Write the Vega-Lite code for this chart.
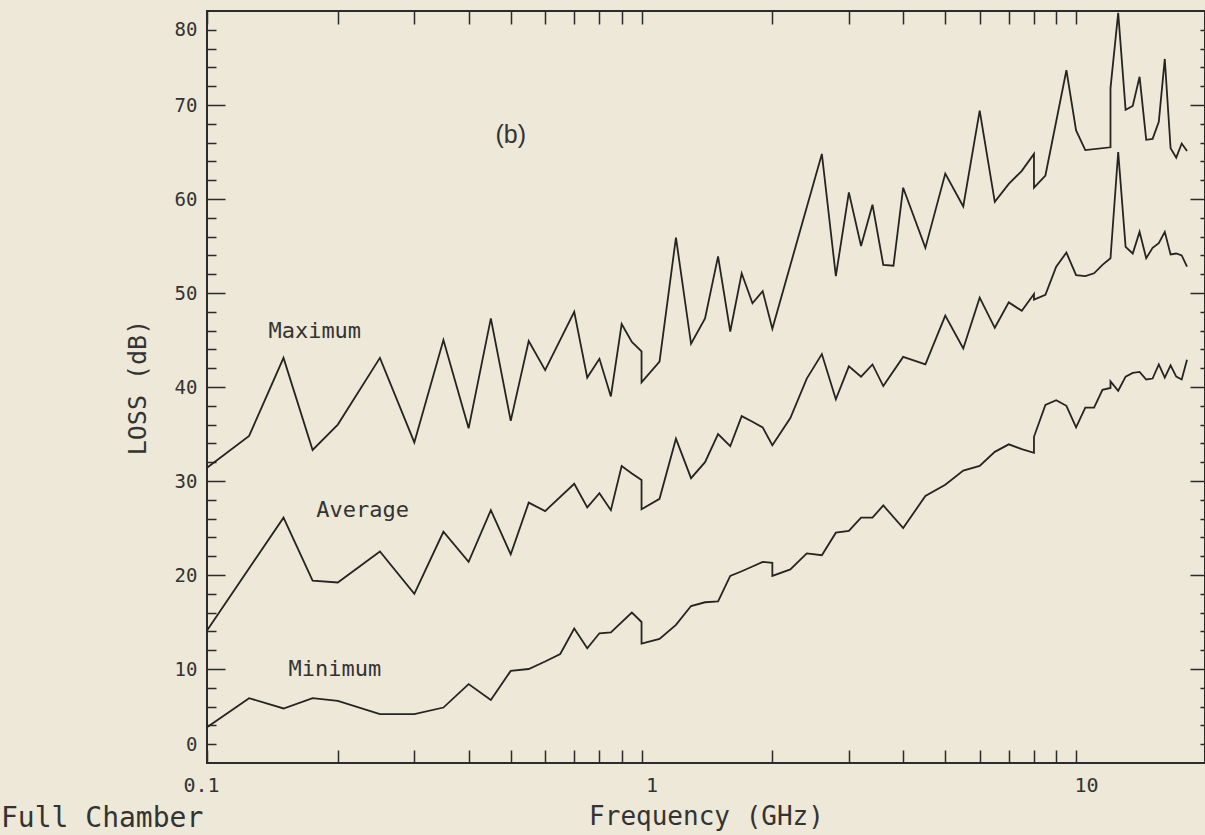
{
  "$schema": "https://vega.github.io/schema/vega-lite/v6.json",
  "width": 998,
  "height": 752,
  "autosize": {"type": "none"},
  "padding": {"left": 207, "top": 11, "right": 0, "bottom": 72},
  "background": "#ede8d8",
  "config": {
    "view": {"stroke": "#2b2b2b", "strokeWidth": 2},
    "axis": {
      "domain": false,
      "grid": false,
      "tickColor": "#2b2b2b",
      "tickWidth": 1.5,
      "labelFont": "DejaVu Sans Mono",
      "labelColor": "#333333",
      "titleFont": "DejaVu Sans Mono",
      "titleFontWeight": "normal",
      "titleColor": "#333333"
    },
    "title": {"font": "DejaVu Sans Mono", "fontWeight": "normal", "color": "#333333"}
  },
  "title": {
    "text": "Full Chamber",
    "orient": "bottom",
    "anchor": "start",
    "frame": "group",
    "fontSize": 28,
    "dx": -206,
    "offset": -24
  },
  "datasets": {
    "lines": [
      {"s": "Maximum", "i": 0, "f": 0.1, "v": 31.4},
      {"s": "Maximum", "i": 1, "f": 0.125, "v": 34.8},
      {"s": "Maximum", "i": 2, "f": 0.15, "v": 43.1},
      {"s": "Maximum", "i": 3, "f": 0.175, "v": 33.3},
      {"s": "Maximum", "i": 4, "f": 0.2, "v": 36.0},
      {"s": "Maximum", "i": 5, "f": 0.25, "v": 43.1},
      {"s": "Maximum", "i": 6, "f": 0.3, "v": 34.1},
      {"s": "Maximum", "i": 7, "f": 0.35, "v": 45.0},
      {"s": "Maximum", "i": 8, "f": 0.4, "v": 35.6},
      {"s": "Maximum", "i": 9, "f": 0.45, "v": 47.3},
      {"s": "Maximum", "i": 10, "f": 0.5, "v": 36.4},
      {"s": "Maximum", "i": 11, "f": 0.55, "v": 44.9},
      {"s": "Maximum", "i": 12, "f": 0.6, "v": 41.8},
      {"s": "Maximum", "i": 13, "f": 0.7, "v": 48.0},
      {"s": "Maximum", "i": 14, "f": 0.75, "v": 41.0},
      {"s": "Maximum", "i": 15, "f": 0.8, "v": 43.0},
      {"s": "Maximum", "i": 16, "f": 0.85, "v": 39.0},
      {"s": "Maximum", "i": 17, "f": 0.9, "v": 46.7},
      {"s": "Maximum", "i": 18, "f": 0.95, "v": 44.8},
      {"s": "Maximum", "i": 19, "f": 1.0, "v": 43.8},
      {"s": "Maximum", "i": 20, "f": 1.0, "v": 40.5},
      {"s": "Maximum", "i": 21, "f": 1.1, "v": 42.7},
      {"s": "Maximum", "i": 22, "f": 1.2, "v": 55.9},
      {"s": "Maximum", "i": 23, "f": 1.3, "v": 44.6},
      {"s": "Maximum", "i": 24, "f": 1.4, "v": 47.3},
      {"s": "Maximum", "i": 25, "f": 1.5, "v": 53.9},
      {"s": "Maximum", "i": 26, "f": 1.6, "v": 45.9},
      {"s": "Maximum", "i": 27, "f": 1.7, "v": 52.1},
      {"s": "Maximum", "i": 28, "f": 1.8, "v": 48.9},
      {"s": "Maximum", "i": 29, "f": 1.9, "v": 50.2},
      {"s": "Maximum", "i": 30, "f": 2.0, "v": 46.2},
      {"s": "Maximum", "i": 31, "f": 2.6, "v": 64.8},
      {"s": "Maximum", "i": 32, "f": 2.8, "v": 51.8},
      {"s": "Maximum", "i": 33, "f": 3.0, "v": 60.7},
      {"s": "Maximum", "i": 34, "f": 3.2, "v": 55.0},
      {"s": "Maximum", "i": 35, "f": 3.4, "v": 59.4},
      {"s": "Maximum", "i": 36, "f": 3.6, "v": 53.0},
      {"s": "Maximum", "i": 37, "f": 3.8, "v": 52.9},
      {"s": "Maximum", "i": 38, "f": 4.0, "v": 61.2},
      {"s": "Maximum", "i": 39, "f": 4.5, "v": 54.8},
      {"s": "Maximum", "i": 40, "f": 5.0, "v": 62.7},
      {"s": "Maximum", "i": 41, "f": 5.5, "v": 59.2},
      {"s": "Maximum", "i": 42, "f": 6.0, "v": 69.4},
      {"s": "Maximum", "i": 43, "f": 6.5, "v": 59.7},
      {"s": "Maximum", "i": 44, "f": 7.0, "v": 61.6},
      {"s": "Maximum", "i": 45, "f": 7.5, "v": 63.0},
      {"s": "Maximum", "i": 46, "f": 8.0, "v": 64.8},
      {"s": "Maximum", "i": 47, "f": 8.0, "v": 61.2},
      {"s": "Maximum", "i": 48, "f": 8.5, "v": 62.5},
      {"s": "Maximum", "i": 49, "f": 9.5, "v": 73.7},
      {"s": "Maximum", "i": 50, "f": 10.0, "v": 67.3},
      {"s": "Maximum", "i": 51, "f": 10.5, "v": 65.2},
      {"s": "Maximum", "i": 52, "f": 12.0, "v": 65.5},
      {"s": "Maximum", "i": 53, "f": 12.0, "v": 71.8},
      {"s": "Maximum", "i": 54, "f": 12.5, "v": 79.8},
      {"s": "Maximum", "i": 55, "f": 13.0, "v": 69.5},
      {"s": "Maximum", "i": 56, "f": 13.5, "v": 69.9},
      {"s": "Maximum", "i": 57, "f": 14.0, "v": 73.0},
      {"s": "Maximum", "i": 58, "f": 14.5, "v": 66.3},
      {"s": "Maximum", "i": 59, "f": 15.0, "v": 66.4},
      {"s": "Maximum", "i": 60, "f": 15.5, "v": 68.2},
      {"s": "Maximum", "i": 61, "f": 16.0, "v": 74.9},
      {"s": "Maximum", "i": 62, "f": 16.5, "v": 65.4},
      {"s": "Maximum", "i": 63, "f": 17.0, "v": 64.4},
      {"s": "Maximum", "i": 64, "f": 17.5, "v": 65.9},
      {"s": "Maximum", "i": 65, "f": 18.0, "v": 65.1},

      {"s": "Average", "i": 0, "f": 0.1, "v": 14.1},
      {"s": "Average", "i": 1, "f": 0.15, "v": 26.1},
      {"s": "Average", "i": 2, "f": 0.175, "v": 19.4},
      {"s": "Average", "i": 3, "f": 0.2, "v": 19.2},
      {"s": "Average", "i": 4, "f": 0.25, "v": 22.5},
      {"s": "Average", "i": 5, "f": 0.3, "v": 18.0},
      {"s": "Average", "i": 6, "f": 0.35, "v": 24.6},
      {"s": "Average", "i": 7, "f": 0.4, "v": 21.4},
      {"s": "Average", "i": 8, "f": 0.45, "v": 26.9},
      {"s": "Average", "i": 9, "f": 0.5, "v": 22.2},
      {"s": "Average", "i": 10, "f": 0.55, "v": 27.7},
      {"s": "Average", "i": 11, "f": 0.6, "v": 26.8},
      {"s": "Average", "i": 12, "f": 0.7, "v": 29.7},
      {"s": "Average", "i": 13, "f": 0.75, "v": 27.2},
      {"s": "Average", "i": 14, "f": 0.8, "v": 28.7},
      {"s": "Average", "i": 15, "f": 0.85, "v": 26.9},
      {"s": "Average", "i": 16, "f": 0.9, "v": 31.6},
      {"s": "Average", "i": 17, "f": 0.95, "v": 30.8},
      {"s": "Average", "i": 18, "f": 1.0, "v": 30.1},
      {"s": "Average", "i": 19, "f": 1.0, "v": 27.0},
      {"s": "Average", "i": 20, "f": 1.1, "v": 28.1},
      {"s": "Average", "i": 21, "f": 1.2, "v": 34.5},
      {"s": "Average", "i": 22, "f": 1.3, "v": 30.3},
      {"s": "Average", "i": 23, "f": 1.4, "v": 32.0},
      {"s": "Average", "i": 24, "f": 1.5, "v": 35.0},
      {"s": "Average", "i": 25, "f": 1.6, "v": 33.7},
      {"s": "Average", "i": 26, "f": 1.7, "v": 36.9},
      {"s": "Average", "i": 27, "f": 1.8, "v": 36.3},
      {"s": "Average", "i": 28, "f": 1.9, "v": 35.7},
      {"s": "Average", "i": 29, "f": 2.0, "v": 33.8},
      {"s": "Average", "i": 30, "f": 2.2, "v": 36.7},
      {"s": "Average", "i": 31, "f": 2.4, "v": 40.9},
      {"s": "Average", "i": 32, "f": 2.6, "v": 43.5},
      {"s": "Average", "i": 33, "f": 2.8, "v": 38.7},
      {"s": "Average", "i": 34, "f": 3.0, "v": 42.2},
      {"s": "Average", "i": 35, "f": 3.2, "v": 41.1},
      {"s": "Average", "i": 36, "f": 3.4, "v": 42.4},
      {"s": "Average", "i": 37, "f": 3.6, "v": 40.1},
      {"s": "Average", "i": 38, "f": 4.0, "v": 43.2},
      {"s": "Average", "i": 39, "f": 4.5, "v": 42.4},
      {"s": "Average", "i": 40, "f": 5.0, "v": 47.6},
      {"s": "Average", "i": 41, "f": 5.5, "v": 44.1},
      {"s": "Average", "i": 42, "f": 6.0, "v": 49.5},
      {"s": "Average", "i": 43, "f": 6.5, "v": 46.3},
      {"s": "Average", "i": 44, "f": 7.0, "v": 49.0},
      {"s": "Average", "i": 45, "f": 7.5, "v": 48.1},
      {"s": "Average", "i": 46, "f": 8.0, "v": 49.9},
      {"s": "Average", "i": 47, "f": 8.0, "v": 49.3},
      {"s": "Average", "i": 48, "f": 8.5, "v": 49.8},
      {"s": "Average", "i": 49, "f": 9.0, "v": 52.8},
      {"s": "Average", "i": 50, "f": 9.5, "v": 54.3},
      {"s": "Average", "i": 51, "f": 10.0, "v": 51.9},
      {"s": "Average", "i": 52, "f": 10.5, "v": 51.8},
      {"s": "Average", "i": 53, "f": 11.0, "v": 52.1},
      {"s": "Average", "i": 54, "f": 11.5, "v": 53.0},
      {"s": "Average", "i": 55, "f": 12.0, "v": 53.7},
      {"s": "Average", "i": 56, "f": 12.5, "v": 65.0},
      {"s": "Average", "i": 57, "f": 13.0, "v": 54.9},
      {"s": "Average", "i": 58, "f": 13.5, "v": 54.2},
      {"s": "Average", "i": 59, "f": 14.0, "v": 56.5},
      {"s": "Average", "i": 60, "f": 14.5, "v": 53.7},
      {"s": "Average", "i": 61, "f": 15.0, "v": 54.8},
      {"s": "Average", "i": 62, "f": 15.5, "v": 55.3},
      {"s": "Average", "i": 63, "f": 16.0, "v": 56.5},
      {"s": "Average", "i": 64, "f": 16.5, "v": 54.1},
      {"s": "Average", "i": 65, "f": 17.0, "v": 54.2},
      {"s": "Average", "i": 66, "f": 17.5, "v": 54.0},
      {"s": "Average", "i": 67, "f": 18.0, "v": 52.8},

      {"s": "Minimum", "i": 0, "f": 0.1, "v": 3.8},
      {"s": "Minimum", "i": 1, "f": 0.125, "v": 6.9},
      {"s": "Minimum", "i": 2, "f": 0.15, "v": 5.8},
      {"s": "Minimum", "i": 3, "f": 0.175, "v": 6.9},
      {"s": "Minimum", "i": 4, "f": 0.2, "v": 6.6},
      {"s": "Minimum", "i": 5, "f": 0.25, "v": 5.2},
      {"s": "Minimum", "i": 6, "f": 0.3, "v": 5.2},
      {"s": "Minimum", "i": 7, "f": 0.35, "v": 5.9},
      {"s": "Minimum", "i": 8, "f": 0.4, "v": 8.4},
      {"s": "Minimum", "i": 9, "f": 0.45, "v": 6.7},
      {"s": "Minimum", "i": 10, "f": 0.5, "v": 9.8},
      {"s": "Minimum", "i": 11, "f": 0.55, "v": 10.0},
      {"s": "Minimum", "i": 12, "f": 0.6, "v": 10.8},
      {"s": "Minimum", "i": 13, "f": 0.65, "v": 11.6},
      {"s": "Minimum", "i": 14, "f": 0.7, "v": 14.3},
      {"s": "Minimum", "i": 15, "f": 0.75, "v": 12.2},
      {"s": "Minimum", "i": 16, "f": 0.8, "v": 13.8},
      {"s": "Minimum", "i": 17, "f": 0.85, "v": 13.9},
      {"s": "Minimum", "i": 18, "f": 0.95, "v": 16.0},
      {"s": "Minimum", "i": 19, "f": 1.0, "v": 15.0},
      {"s": "Minimum", "i": 20, "f": 1.0, "v": 12.7},
      {"s": "Minimum", "i": 21, "f": 1.1, "v": 13.2},
      {"s": "Minimum", "i": 22, "f": 1.2, "v": 14.7},
      {"s": "Minimum", "i": 23, "f": 1.3, "v": 16.7},
      {"s": "Minimum", "i": 24, "f": 1.4, "v": 17.1},
      {"s": "Minimum", "i": 25, "f": 1.5, "v": 17.2},
      {"s": "Minimum", "i": 26, "f": 1.6, "v": 19.9},
      {"s": "Minimum", "i": 27, "f": 1.7, "v": 20.4},
      {"s": "Minimum", "i": 28, "f": 1.8, "v": 20.9},
      {"s": "Minimum", "i": 29, "f": 1.9, "v": 21.4},
      {"s": "Minimum", "i": 30, "f": 2.0, "v": 21.3},
      {"s": "Minimum", "i": 31, "f": 2.0, "v": 19.9},
      {"s": "Minimum", "i": 32, "f": 2.2, "v": 20.6},
      {"s": "Minimum", "i": 33, "f": 2.4, "v": 22.3},
      {"s": "Minimum", "i": 34, "f": 2.6, "v": 22.1},
      {"s": "Minimum", "i": 35, "f": 2.8, "v": 24.5},
      {"s": "Minimum", "i": 36, "f": 3.0, "v": 24.7},
      {"s": "Minimum", "i": 37, "f": 3.2, "v": 26.1},
      {"s": "Minimum", "i": 38, "f": 3.4, "v": 26.1},
      {"s": "Minimum", "i": 39, "f": 3.6, "v": 27.4},
      {"s": "Minimum", "i": 40, "f": 4.0, "v": 25.0},
      {"s": "Minimum", "i": 41, "f": 4.5, "v": 28.4},
      {"s": "Minimum", "i": 42, "f": 5.0, "v": 29.6},
      {"s": "Minimum", "i": 43, "f": 5.5, "v": 31.1},
      {"s": "Minimum", "i": 44, "f": 6.0, "v": 31.6},
      {"s": "Minimum", "i": 45, "f": 6.5, "v": 33.1},
      {"s": "Minimum", "i": 46, "f": 7.0, "v": 33.9},
      {"s": "Minimum", "i": 47, "f": 7.5, "v": 33.4},
      {"s": "Minimum", "i": 48, "f": 8.0, "v": 33.0},
      {"s": "Minimum", "i": 49, "f": 8.0, "v": 34.7},
      {"s": "Minimum", "i": 50, "f": 8.5, "v": 38.1},
      {"s": "Minimum", "i": 51, "f": 9.0, "v": 38.6},
      {"s": "Minimum", "i": 52, "f": 9.5, "v": 38.0},
      {"s": "Minimum", "i": 53, "f": 10.0, "v": 35.7},
      {"s": "Minimum", "i": 54, "f": 10.5, "v": 37.8},
      {"s": "Minimum", "i": 55, "f": 11.0, "v": 37.8},
      {"s": "Minimum", "i": 56, "f": 11.5, "v": 39.7},
      {"s": "Minimum", "i": 57, "f": 12.0, "v": 39.9},
      {"s": "Minimum", "i": 58, "f": 12.0, "v": 40.6},
      {"s": "Minimum", "i": 59, "f": 12.5, "v": 39.6},
      {"s": "Minimum", "i": 60, "f": 13.0, "v": 41.1},
      {"s": "Minimum", "i": 61, "f": 13.5, "v": 41.5},
      {"s": "Minimum", "i": 62, "f": 14.0, "v": 41.6},
      {"s": "Minimum", "i": 63, "f": 14.5, "v": 40.8},
      {"s": "Minimum", "i": 64, "f": 15.0, "v": 40.9},
      {"s": "Minimum", "i": 65, "f": 15.5, "v": 42.4},
      {"s": "Minimum", "i": 66, "f": 16.0, "v": 41.0},
      {"s": "Minimum", "i": 67, "f": 16.5, "v": 42.3},
      {"s": "Minimum", "i": 68, "f": 17.0, "v": 41.1},
      {"s": "Minimum", "i": 69, "f": 17.5, "v": 40.8},
      {"s": "Minimum", "i": 70, "f": 18.0, "v": 42.9}
    ],
    "notes": [
      {"t": "Maximum", "f": 0.177, "v": 46.0},
      {"t": "Average", "f": 0.228, "v": 26.9},
      {"t": "Minimum", "f": 0.197, "v": 10.0}
    ],
    "panel": [
      {"t": "(b)", "f": 0.5, "v": 66.8}
    ]
  },
  "resolve": {"axis": {"x": "independent", "y": "independent"}},
  "layer": [
    {
      "data": {"name": "lines"},
      "mark": {"type": "line", "color": "#262422", "strokeWidth": 1.8, "strokeMiterLimit": 4},
      "encoding": {
        "x": {
          "field": "f", "type": "quantitative",
          "scale": {"type": "log", "domain": [0.1, 19.8], "nice": false},
          "axis": {
            "orient": "bottom",
            "values": [0.1, 0.2, 0.3, 0.4, 0.5, 0.6, 0.7, 0.8, 0.9, 1, 2, 3, 4, 5, 6, 7, 8, 9, 10],
            "tickSize": -13,
            "labelPadding": 25,
            "labelFontSize": 20,
            "labelFlush": false,
            "labelOverlap": false,
            "labelExpr": "datum.value === 0.1 ? '0.1' : datum.value === 1 ? '1' : datum.value === 10 ? '10' : ''",
            "labelOffset": {"condition": {"test": "datum.value === 0.1", "value": -6}, "value": 10},
            "title": "Frequency (GHz)",
            "titleFontSize": 26,
            "titlePadding": 8
          }
        },
        "y": {
          "field": "v", "type": "quantitative",
          "scale": {"domain": [0, 80], "nice": false, "zero": false},
          "axis": {
            "orient": "left",
            "values": [2, 4, 6, 8, 10, 12, 14, 16, 18, 20, 22, 24, 26, 28, 30, 32, 34, 36, 38, 40, 42, 44, 46, 48, 50, 52, 54, 56, 58, 60, 62, 64, 66, 68, 70, 72, 74, 76, 78],
            "tickSize": {"condition": {"test": "datum.value % 10 === 0", "value": -18}, "value": -9},
            "labelPadding": {"condition": {"test": "datum.value % 10 === 0", "value": 28}, "value": 19},
            "labelFontSize": 19,
            "labelFlush": false,
            "labelOverlap": false,
            "labelExpr": "datum.value === 2 ? '0' : datum.value === 78 ? '80' : (datum.value % 10 === 0 ? datum.label : '')",
            "title": "LOSS (dB)",
            "titleFontSize": 25,
            "titlePadding": 24
          }
        },
        "detail": {"field": "s"},
        "order": {"field": "i", "type": "quantitative"}
      }
    },
    {
      "data": {"name": "notes"},
      "mark": {"type": "text", "font": "DejaVu Sans Mono", "fontSize": 22, "color": "#333333"},
      "encoding": {
        "x": {
          "field": "f", "type": "quantitative",
          "scale": {"type": "log", "domain": [0.1, 19.8], "nice": false},
          "axis": {
            "orient": "top",
            "values": [0.1, 0.2, 0.3, 0.4, 0.5, 0.6, 0.7, 0.8, 0.9, 1, 2, 3, 4, 5, 6, 7, 8, 9, 10],
            "tickSize": -13,
            "labels": false,
            "title": null
          }
        },
        "y": {
          "field": "v", "type": "quantitative",
          "scale": {"domain": [0, 80], "nice": false, "zero": false},
          "axis": {
            "orient": "right",
            "values": [2, 4, 6, 8, 10, 12, 14, 16, 18, 20, 22, 24, 26, 28, 30, 32, 34, 36, 38, 40, 42, 44, 46, 48, 50, 52, 54, 56, 58, 60, 62, 64, 66, 68, 70, 72, 74, 76, 78],
            "tickSize": {"condition": {"test": "datum.value % 10 === 0", "value": -15}, "value": -5},
            "labels": false,
            "title": null
          }
        },
        "text": {"field": "t"}
      }
    },
    {
      "data": {"name": "panel"},
      "mark": {"type": "text", "font": "Liberation Sans", "fontSize": 25, "color": "#333333"},
      "encoding": {
        "x": {"field": "f", "type": "quantitative", "scale": {"type": "log", "domain": [0.1, 19.8], "nice": false}, "axis": null},
        "y": {"field": "v", "type": "quantitative", "scale": {"domain": [0, 80], "nice": false, "zero": false}, "axis": null},
        "text": {"field": "t"}
      }
    }
  ]
}
